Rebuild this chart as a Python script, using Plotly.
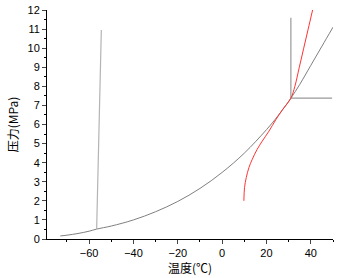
import plotly.graph_objects as go

# Gray saturation / sublimation curve (temperature °C, pressure MPa)
sat_t = [-73, -70, -65, -60, -56.6, -50, -40, -30, -20, -10, 0, 10, 20, 25, 31, 35, 40, 45, 50]
sat_p = [0.16, 0.2, 0.29, 0.41, 0.52, 0.68, 1.0, 1.43, 1.97, 2.65, 3.49, 4.5, 5.73, 6.43, 7.38, 8.1, 9.1, 10.1, 11.1]

# Melting line
melt_t = [-56.6, -54.5]
melt_p = [0.52, 10.95]

# Critical point guide lines
crit_v_t = [31, 31]
crit_v_p = [7.38, 11.6]
crit_h_t = [31, 49.6]
crit_h_p = [7.38, 7.38]

# Red curve
red_t = [9.8, 10.1, 10.9, 12.1, 13.6, 15.8, 18.1, 21.1, 24.2, 27.2, 31.0, 32.8, 34.8, 36.8, 38.8, 40.8]
red_p = [2.0, 2.7, 3.23, 3.75, 4.18, 4.7, 5.13, 5.65, 6.25, 6.77, 7.38, 8.0, 9.0, 10.0, 11.0, 12.0]

fig = go.Figure()
fig.add_trace(go.Scatter(x=sat_t, y=sat_p, mode="lines", line=dict(color="#7f7f7f", width=1, shape="spline")))
fig.add_trace(go.Scatter(x=melt_t, y=melt_p, mode="lines", line=dict(color="#b4b4b4", width=1.2)))
fig.add_trace(go.Scatter(x=crit_v_t, y=crit_v_p, mode="lines", line=dict(color="#999999", width=1.2)))
fig.add_trace(go.Scatter(x=crit_h_t, y=crit_h_p, mode="lines", line=dict(color="#999999", width=1.2)))
fig.add_trace(go.Scatter(x=red_t, y=red_p, mode="lines", line=dict(color="#ff3333", width=1, shape="spline")))

tickfont = dict(family="Liberation Sans, Arial", size=11, color="#000")
fig.update_layout(
    width=337, height=278,
    margin=dict(l=47, r=4, t=7, b=39),
    paper_bgcolor="white", plot_bgcolor="white",
    showlegend=False,
    xaxis=dict(range=[-79, 50], tick0=0, dtick=20, ticks="outside", ticklen=4, tickwidth=1,
               showline=True, linecolor="#000", linewidth=1, showgrid=False, zeroline=False,
               tickfont=tickfont,
               minor=dict(dtick=10, ticks="outside", ticklen=2, tickwidth=1, tickcolor="#000"),
               title=dict(text="温度(℃)", font=dict(family="Noto Sans CJK SC", size=12, color="#000"), standoff=4)),
    yaxis=dict(range=[0, 12], dtick=1, ticks="outside", ticklen=4, tickwidth=1,
               showline=True, linecolor="#000", linewidth=1, showgrid=False, zeroline=False,
               tickfont=tickfont,
               minor=dict(dtick=0.5, ticks="outside", ticklen=2, tickwidth=1, tickcolor="#000"),
               title=dict(text="压力(MPa)", font=dict(family="Noto Sans CJK SC", size=12, color="#000"), standoff=6)),
)
fig.write_html("out.html", config={"displayModeBar": False},
               post_script="document.body.style.margin='0';document.body.style.padding='0';")
